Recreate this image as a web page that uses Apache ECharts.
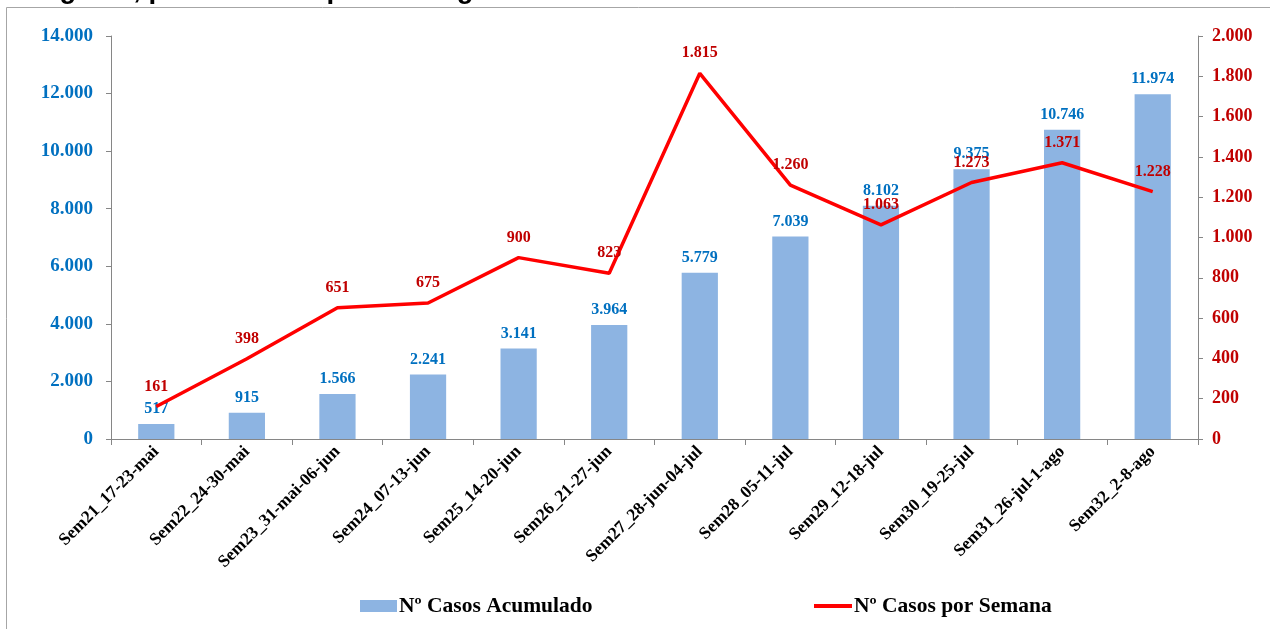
<!DOCTYPE html>
<html>
<head>
<meta charset="utf-8">
<script src="https://cdn.jsdelivr.net/npm/echarts@6/dist/echarts.min.js"></script>
<style>
html,body{margin:0;padding:0;background:#fff;}
#chart{width:1270px;height:629px;}
</style>
</head>
<body>
<div id="chart"></div>
<script>
const categories = ['Sem21_17-23-mai','Sem22_24-30-mai','Sem23_31-mai-06-jun','Sem24_07-13-jun','Sem25_14-20-jun','Sem26_21-27-jun','Sem27_28-jun-04-jul','Sem28_05-11-jul','Sem29_12-18-jul','Sem30_19-25-jul','Sem31_26-jul-1-ago','Sem32_2-8-ago'];
const casosAcumulado = [517, 915, 1566, 2241, 3141, 3964, 5779, 7039, 8102, 9375, 10746, 11974];
const casosSemana = [161, 398, 651, 675, 900, 823, 1815, 1260, 1063, 1273, 1371, 1228];
const seriesNames = ['Nº Casos Acumulado', 'Nº Casos por Semana'];
const titleText = 'Algarve, por semana epidemiológica';

function fmt(v){ return String(v).replace(/\B(?=(\d{3})+(?!\d))/g, '.'); }

const serif = '"Liberation Serif", "DejaVu Serif", serif';
const legendText = {fontFamily: serif, fontWeight:'bold', fontSize:21.5, color:'#000', padding:[0,0,0,-3]};
const chart = echarts.init(document.getElementById('chart'));
chart.setOption({
  animation: false,
  backgroundColor: '#fff',
  graphic: [
    {type:'rect', shape:{x:6.5, y:7.5, width:1300, height:700}, style:{fill:'none', stroke:'#a6a6a6', lineWidth:1}, silent:true},
    {type:'text', x:32, y:4, style:{text:titleText, font:'bold 27.6px "Liberation Sans", Arial, sans-serif', fill:'#000', textVerticalAlign:'bottom'}}
  ],
  grid: {left:111, right:72, top:36, bottom:190, containLabel:false},
  legend: [
    {left: 355, top: 590, itemWidth: 37, itemHeight: 12, textStyle: legendText,
     data: [{name: seriesNames[0], icon:'rect'}]},
    {left: 809, top: 590, itemWidth: 38, itemHeight: 4, textStyle: legendText,
     data: [{name: seriesNames[1], icon:'rect'}]}
  ],
  xAxis: {
    type:'category', data: categories, boundaryGap: true,
    axisLine:{lineStyle:{color:'#868686', width:1}},
    axisTick:{show:true, alignWithLabel:false, length:6, lineStyle:{color:'#868686'}},
    axisLabel:{rotate:45, interval:0, fontFamily:serif, fontWeight:'bold', fontSize:17.5, color:'#000', margin:10}
  },
  yAxis: [
    {type:'value', min:0, max:14000, interval:2000, position:'left',
     axisLine:{show:true, lineStyle:{color:'#868686'}},
     axisTick:{show:true, length:5, lineStyle:{color:'#868686'}},
     splitLine:{show:false},
     axisLabel:{formatter: fmt, fontFamily:serif, fontWeight:'bold', fontSize:19, color:'#0070C0', margin:18}},
    {type:'value', min:0, max:2000, interval:200, position:'right',
     axisLine:{show:true, lineStyle:{color:'#868686'}},
     axisTick:{show:true, length:5, lineStyle:{color:'#868686'}},
     splitLine:{show:false},
     axisLabel:{formatter: fmt, fontFamily:serif, fontWeight:'bold', fontSize:18, color:'#C00000', margin:14}}
  ],
  series: [
    {name: seriesNames[0], type:'bar', yAxisIndex:0, data: casosAcumulado, barWidth:'40%',
     itemStyle:{color:'#8DB4E2'},
     label:{show:true, position:'top', distance:7, formatter: p => fmt(p.value), fontFamily:serif, fontWeight:'bold', fontSize:16, color:'#0070C0'}},
    {name: seriesNames[1], type:'line', yAxisIndex:1, data: casosSemana, symbol:'circle', symbolSize:0, showSymbol:true,
     lineStyle:{color:'#FF0000', width:3.5}, itemStyle:{color:'#FF0000'},
     label:{show:true, position:'top', distance:12, formatter: p => fmt(p.value), fontFamily:serif, fontWeight:'bold', fontSize:16, color:'#C00000'},
     z:5}
  ]
});
</script>
</body>
</html>
